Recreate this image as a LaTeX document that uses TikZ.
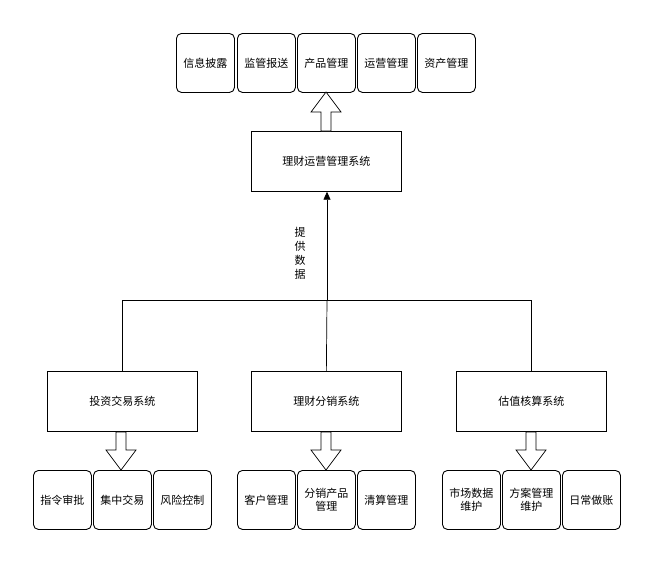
\documentclass[tikz,border=0pt]{standalone}
\usepackage{fontspec}
\setmainfont{Noto Sans CJK SC}
\usetikzlibrary{arrows.meta}
\begin{document}
\begin{tikzpicture}[x=1pt,y=-1pt,
  font=\fontsize{11}{13}\selectfont,
  sm/.style={draw,line width=0.9pt,rounded corners=5pt,minimum width=58pt,minimum height=59pt,anchor=north west,inner sep=1pt,align=center,text width=56pt},
  big/.style={draw,line width=0.7pt,minimum width=150pt,minimum height=60pt,anchor=north west,inner sep=0pt},
  ln/.style={draw,line width=0.7pt},
  barrow/.style={draw,line width=0.7pt,fill=white}]
\useasboundingbox (0,0) rectangle (652,563);
\newcommand\myblk[3]{% x, tail y, tip y
  \pgfmathsetmacro\dd{(#3>#2)?1:-1}
  \draw[barrow] (#1-5,#2) -- (#1-5,{#3-\dd*20}) -- (#1-15,{#3-\dd*20}) -- (#1,#3) -- (#1+15,{#3-\dd*20}) -- (#1+5,{#3-\dd*20}) -- (#1+5,#2) -- cycle;}
% top row
\node[sm] (t1) at (176,33) {信息披露};
\node[sm] (t2) at (237,33) {监管报送};
\node[sm] (t3) at (297,33) {产品管理};
\node[sm] (t4) at (357,33) {运营管理};
\node[sm] (t5) at (417,33) {资产管理};
\node[big] (c) at (251,131) {理财运营管理系统};
\myblk{326}{131}{92}
% bottom systems
\node[big] (b1) at (47,371) {投资交易系统};
\node[big] (b2) at (251,371) {理财分销系统};
\node[big] (b3) at (456,371) {估值核算系统};
\coordinate (j) at (327,300);
\draw[ln] (b1.north) |- (b3.north |- j) -- (b3.north);
\draw[ln] (b2.north) -- (j);
\draw[ln,-{Triangle[length=8pt,width=7pt]}] (j) -- (c.south -| j);
\node[align=center,inner sep=0pt,font=\fontsize{11}{14}\selectfont] (lab) at (300,253) {提\\供\\数\\据};
\myblk{121}{432}{470}
\myblk{326}{432}{470}
\myblk{531}{432}{470}
\node[sm] (l1) at (33,470) {指令审批};
\node[sm] (l2) at (93,470) {集中交易};
\node[sm] (l3) at (153,470) {风险控制};
\node[sm] (m1) at (237,470) {客户管理};
\node[sm] (m2) at (297,470) {分销产品\\管理};
\node[sm] (m3) at (357,470) {清算管理};
\node[sm] (r1) at (442,470) {市场数据\\维护};
\node[sm] (r2) at (502,470) {方案管理\\维护};
\node[sm] (r3) at (562,470) {日常做账};
\end{tikzpicture}
\end{document}
